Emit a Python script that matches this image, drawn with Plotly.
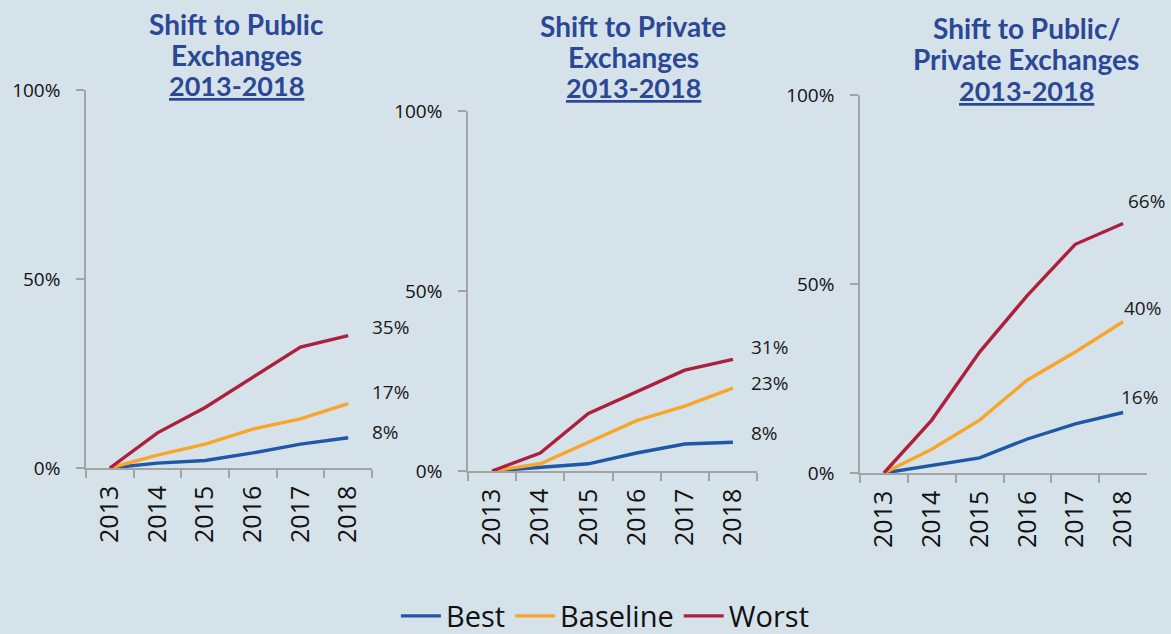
import plotly.graph_objects as go

years = ["2013", "2014", "2015", "2016", "2017", "2018"]
series_names = ["Best", "Baseline", "Worst"]
series_colors = ["#1f58a4", "#f8a52a", "#ad1f3d"]

public_best = [0, 1.3, 2, 4, 6.3, 8]
public_base = [0, 3.4, 6.3, 10.3, 13, 17]
public_worst = [0, 9.3, 16, 24, 32, 35]

private_best = [0, 1, 2, 5, 7.5, 8]
private_base = [0, 2, 8, 14, 18, 23]
private_worst = [0, 5, 16, 22, 28, 31]

mixed_best = [0, 2, 4, 9, 13, 16]
mixed_base = [0, 6.3, 14, 24.6, 32, 40]
mixed_worst = [0, 14, 32, 47, 60.5, 66]

title_lines = [["Shift to Public", "Exchanges"],
               ["Shift to Private", "Exchanges"],
               ["Shift to Public/", "Private Exchanges"]]
period = "2013-2018"
y_ticks = [0, 50, 100]
y_tick_text = ["0%", "50%", "100%"]

panels = [
    [public_best, public_base, public_worst],
    [private_best, private_base, private_worst],
    [mixed_best, mixed_base, mixed_worst],
]

W, H = 1171, 634
# pixel geometry per panel: (x_left, x_right, y_zero, y_hundred)
geom = [(86, 372, 468, 90), (468, 757, 471, 111), (860, 1147, 473, 95)]
# title centre x and the three line centres y
title_geom = [(236, [24, 55, 85]), (633, [26, 57, 87]), (1026, [28, 59, 90])]
# label offsets (xshift, yshift) for Best, Baseline, Worst
label_shifts = [
    [(22, 6), (22, 12), (22, 9)],
    [(16, 9), (16, 5), (16, 12)],
    [(-4, 16), (-1, 14), (3, 23)],
]

BG = "#d6e2ea"
AX = "#a3a3a3"
TITLE_C = "#2a4896"

fig = go.Figure()
for p, data in enumerate(panels):
    xs = "x" if p == 0 else f"x{p+1}"
    ys = "y" if p == 0 else f"y{p+1}"
    for s, vals in enumerate(data):
        fig.add_trace(go.Scatter(
            x=years, y=vals, mode="lines", name=series_names[s],
            line=dict(color=series_colors[s], width=3.4),
            xaxis=xs, yaxis=ys, showlegend=(p == 0), hoverinfo="skip"))
        dx, dy = label_shifts[p][s]
        fig.add_annotation(
            x=len(years) - 1, y=vals[-1], xref=xs, yref=ys,
            text=f"{vals[-1]:g}%",
            showarrow=False, xanchor="left", yanchor="middle",
            xshift=dx, yshift=dy,
            font=dict(family="Open Sans", size=19, color="#1a1a1a"))
    xl, xr, y0, y1 = geom[p]
    xa = dict(domain=[xl / W, xr / W], type="category",
              range=[-0.5, len(years) - 0.5],
              showline=True, linecolor=AX, linewidth=1.5,
              ticks="outside", tickson="boundaries", ticklen=8, tickcolor=AX,
              tickwidth=1.5, tickangle=-90, showgrid=False, zeroline=False,
              ticklabelstandoff=6, automargin=False,
              tickfont=dict(family="Open Sans", size=25, color="#111"),
              anchor=ys, fixedrange=True)
    ya = dict(domain=[1 - y0 / H, 1 - y1 / H], range=[0, 100],
              tickvals=y_ticks, ticktext=y_tick_text,
              showline=True, linecolor=AX, linewidth=1.5,
              ticks="outside", ticklen=8, tickcolor=AX, tickwidth=1.5,
              showgrid=False, zeroline=False, ticklabelstandoff=12,
              automargin=False,
              tickfont=dict(family="Open Sans", size=19, color="#111"),
              anchor=xs, fixedrange=True)
    key = "" if p == 0 else str(p + 1)
    fig.update_layout(**{f"xaxis{key}": xa, f"yaxis{key}": ya})
    cx, lys = title_geom[p]
    for li, line in enumerate(title_lines[p]):
        fig.add_annotation(
            x=cx / W, y=1 - lys[li] / H, xref="paper", yref="paper",
            text=f"<b>{line}</b>", showarrow=False, xanchor="center",
            yanchor="middle",
            font=dict(family="Lato", size=28, color=TITLE_C))
    fig.add_annotation(
        x=cx / W, y=1 - lys[2] / H, xref="paper", yref="paper",
        text=f"<b>{period}</b>", showarrow=False, xanchor="center",
        yanchor="middle",
        font=dict(family="Lato", size=27, color=TITLE_C, lineposition="under"))

fig.update_layout(
    width=W, height=H,
    margin=dict(l=0, r=0, t=0, b=0, pad=0, autoexpand=False),
    paper_bgcolor=BG, plot_bgcolor=BG,
    showlegend=True,
    legend=dict(orientation="h", x=0.517, xanchor="center", y=1 - 616 / H,
                yanchor="middle", bgcolor="rgba(0,0,0,0)",
                font=dict(family="Open Sans", size=29, color="#111"),
                itemwidth=40, tracegroupgap=0),
)

fig.write_html("out.html", config={"displayModeBar": False},
               post_script="document.body.style.margin='0';document.body.style.background='" + BG + "';")
